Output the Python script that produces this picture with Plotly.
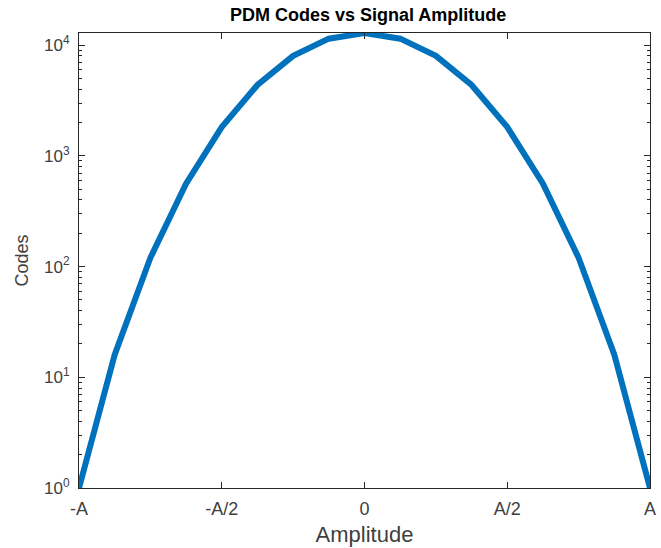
import plotly.graph_objects as go

amplitude = [-1, -0.875, -0.75, -0.625, -0.5, -0.375, -0.25, -0.125, 0,
             0.125, 0.25, 0.375, 0.5, 0.625, 0.75, 0.875, 1]
codes = [1, 16, 120, 560, 1820, 4368, 8008, 11440, 12870,
         11440, 8008, 4368, 1820, 560, 120, 16, 1]
x_tick_vals = [-1, -0.5, 0, 0.5, 1]
x_tick_text = ["-A", "-A/2", "0", "A/2", "A"]
y_tick_vals = [1, 10, 100, 1000, 10000]
y_tick_text = ["10<sup>0</sup>", "10<sup>1</sup>", "10<sup>2</sup>", "10<sup>3</sup>", "10<sup>4</sup>"]
minor_vals = [m * 10 ** d for d in range(4) for m in range(2, 10)]

fig = go.Figure(go.Scatter(x=amplitude, y=codes, mode="lines",
                           line=dict(color="#0072BD", width=6), cliponaxis=False))

fig.update_layout(
    width=661, height=548,
    margin=dict(l=79, r=5, t=33, b=59),
    paper_bgcolor="white", plot_bgcolor="white",
    font=dict(family="Liberation Sans", size=16, color="#404040"),
    title=dict(text="<b>PDM Codes vs Signal Amplitude</b>", x=0.557, xanchor="center",
               y=0.973, yanchor="middle", font=dict(size=18, color="#000000")),
    showlegend=False,
)
fig.update_xaxes(
    range=[-1, 1], tickvals=x_tick_vals, ticktext=x_tick_text,
    ticks="inside", ticklen=6, tickcolor="#262626", tickwidth=1,
    showline=True, linecolor="#262626", linewidth=1, mirror="allticks",
    showgrid=False, zeroline=False, ticklabeloverflow="allow",
    ticklabelstandoff=4,
    title=dict(text="Amplitude", standoff=9, font=dict(size=22)),
    tickfont=dict(size=18),
)
fig.update_yaxes(
    type="log", range=[0, 4.1096], tickvals=y_tick_vals, ticktext=y_tick_text,
    ticks="inside", ticklen=6, tickcolor="#262626", tickwidth=1,
    showline=True, linecolor="#262626", linewidth=1, mirror="allticks",
    showgrid=False, zeroline=False, ticklabelstandoff=5,
    minor=dict(ticks="inside", ticklen=3, tickcolor="#262626", tickvals=minor_vals),
    title=dict(text="Codes", standoff=10, font=dict(size=18)),
    tickfont=dict(size=17),
)

fig.write_html("out.html")
